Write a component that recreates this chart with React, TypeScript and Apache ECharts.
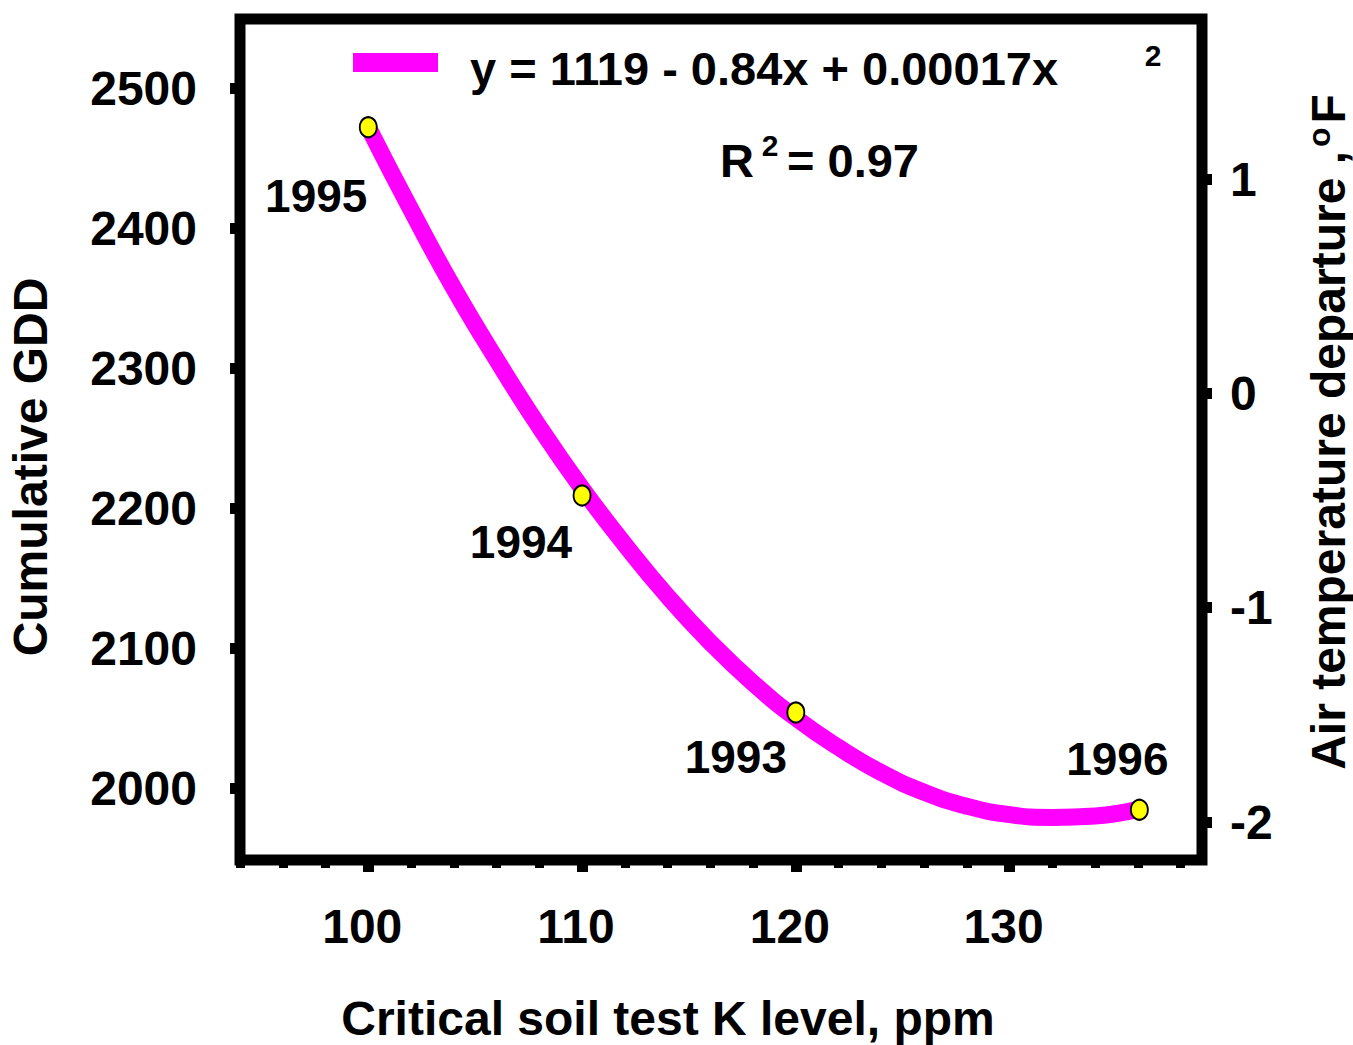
import React, { useEffect, useRef } from "react";
import * as echarts from "echarts";

// ---- data ----
const years = ["1995", "1994", "1993", "1996"];
const soilK = [100.0, 110.0, 120.0, 136.07];
const gdd = [2472, 2209, 2054, 1984.5];

const fitX = [100, 102, 104, 106, 108, 110, 112, 114, 116, 118, 120, 122, 124, 126, 128, 130, 132, 134, 136.07];
const fitY = [2472, 2413, 2357, 2306, 2258, 2214, 2174, 2137, 2104, 2075, 2050, 2029, 2011, 1997, 1987, 1981, 1979, 1980, 1985];

const xTicks = [100, 110, 120, 130];
const xMinorTicks = [94, 96, 98, 102, 104, 106, 108, 112, 114, 116, 118, 122, 124, 126, 128, 132, 134, 136, 138];
const gddTicks = [2000, 2100, 2200, 2300, 2400, 2500];
const tempTicks = [-2, -1, 0, 1];

const equationText = "y = 1119 - 0.84x + 0.00017x";
const rSquaredText = "= 0.97";

// label offsets relative to each point (style, not data)
const labelOffsets = [
  [-52, 69],
  [-61, 47],
  [-60, 45],
  [-22, -51],
];

const FONT = '"Liberation Sans", Arial, sans-serif';

export default function App() {
  const ref = useRef<HTMLDivElement>(null);

  useEffect(() => {
    if (!ref.current) return;
    const chart = echarts.init(ref.current, undefined, { renderer: "svg" });

    const axisLabelStyle = {
      fontFamily: FONT,
      fontWeight: "bold" as const,
      fontSize: 48,
      color: "#000",
    };
    const plain = (v: number) => String(v);

    const option = {
      animation: false,
      backgroundColor: "#fff",
      grid: {
        left: 240,
        width: 962,
        top: 19,
        height: 841,
        containLabel: false,
        outerBoundsMode: "none",
        show: true,
        borderColor: "#000",
        borderWidth: 11,
        backgroundColor: "transparent",
      },
      xAxis: [
        {
          type: "value",
          min: 94,
          max: 139,
          position: "bottom",
          axisLine: { show: false, onZero: false },
          splitLine: { show: false },
          axisTick: {
            show: true,
            customValues: xTicks,
            length: 12,
            lineStyle: { color: "#000", width: 11 },
          },
          axisLabel: {
            ...axisLabelStyle,
            customValues: xTicks,
            margin: 42,
            formatter: plain,
            padding: [0, 12, 0, 0],
          },
          name: "Critical soil test K level, ppm",
          nameLocation: "middle",
          nameGap: 138,
          nameTextStyle: { ...axisLabelStyle, lineHeight: 40, padding: [0, 106, 0, 0] },
        },
        {
          type: "value",
          min: 94,
          max: 139,
          position: "bottom",
          axisLine: { show: false, onZero: false },
          splitLine: { show: false },
          axisTick: {
            show: true,
            customValues: xMinorTicks,
            length: 8,
            lineStyle: { color: "#000", width: 9 },
          },
          axisLabel: { show: false },
        },
      ],
      yAxis: [
        {
          type: "value",
          min: 1948.6,
          max: 2549.3,
          position: "left",
          axisLine: { show: false, onZero: false },
          splitLine: { show: false },
          axisTick: {
            show: true,
            customValues: gddTicks,
            length: 10,
            lineStyle: { color: "#000", width: 11 },
          },
          axisLabel: {
            ...axisLabelStyle,
            customValues: gddTicks,
            margin: 43,
            formatter: plain,
            padding: [10, 0, 0, 0],
          },
        },
        {
          type: "value",
          min: -2.177,
          max: 1.747,
          position: "right",
          axisLine: { show: false, onZero: false },
          splitLine: { show: false },
          axisTick: {
            show: true,
            customValues: tempTicks,
            length: 10,
            lineStyle: { color: "#000", width: 11 },
          },
          axisLabel: {
            ...axisLabelStyle,
            customValues: tempTicks,
            margin: 28,
            formatter: plain,
            padding: [6, 0, 0, 0],
          },
        },
      ],
      series: [
        {
          type: "line",
          name: equationText,
          xAxisIndex: 0,
          yAxisIndex: 0,
          data: fitX.map((x, i) => [x, fitY[i]]),
          smooth: true,
          showSymbol: false,
          lineStyle: { color: "#FF00FF", width: 17, cap: "butt" },
          z: 2,
        },
        {
          type: "scatter",
          xAxisIndex: 0,
          yAxisIndex: 0,
          clip: false,
          symbol: "circle",
          symbolSize: [17, 20],
          itemStyle: { color: "#FFFF00", borderColor: "#000", borderWidth: 2, opacity: 1 },
          data: soilK.map((x, i) => ({
            value: [x, gdd[i]],
            label: {
              show: true,
              formatter: years[i],
              position: "inside",
              offset: labelOffsets[i],
              fontFamily: FONT,
              fontWeight: "bold",
              fontSize: 46,
              color: "#000",
              opacity: 1,
              textBorderWidth: 0,
            },
          })),
          z: 3,
        },
      ],
      graphic: [
        {
          type: "rect",
          shape: { x: 353, y: 53, width: 85, height: 19 },
          style: { fill: "#FF00FF" },
        },
        {
          type: "text",
          x: 470,
          y: 68,
          style: {
            text: equationText,
            font: `bold 47px ${FONT}`,
            fill: "#000",
            align: "left",
            verticalAlign: "middle",
          },
        },
        {
          type: "text",
          x: 1153,
          y: 55,
          style: {
            text: "2",
            font: `bold 30px ${FONT}`,
            fill: "#000",
            align: "center",
            verticalAlign: "middle",
          },
        },
        {
          type: "text",
          x: 720,
          y: 160,
          style: {
            text: "R",
            font: `bold 47px ${FONT}`,
            fill: "#000",
            align: "left",
            verticalAlign: "middle",
          },
        },
        {
          type: "text",
          x: 770,
          y: 145,
          style: {
            text: "2",
            font: `bold 30px ${FONT}`,
            fill: "#000",
            align: "center",
            verticalAlign: "middle",
          },
        },
        {
          type: "text",
          x: 787,
          y: 160,
          style: {
            text: rSquaredText,
            font: `bold 47px ${FONT}`,
            fill: "#000",
            align: "left",
            verticalAlign: "middle",
          },
        },
        {
          type: "text",
          x: 30,
          y: 467,
          rotation: Math.PI / 2,
          style: {
            text: "Cumulative GDD",
            font: `bold 48px ${FONT}`,
            fill: "#000",
            align: "center",
            verticalAlign: "middle",
          },
        },
        {
          type: "text",
          x: 1328,
          y: 432,
          rotation: Math.PI / 2,
          style: {
            text: "Air temperature departure ,{sup|o}F",
            font: `bold 48px ${FONT}`,
            fill: "#000",
            align: "center",
            verticalAlign: "middle",
            rich: {
              sup: {
                fontFamily: FONT,
                fontWeight: "bold",
                fontSize: 32,
                verticalAlign: "top",
                padding: [0, 4, 18, 4],
                fill: "#000",
              },
            },
          },
        },
      ],
    };

    chart.setOption(option as any);
    return () => chart.dispose();
  }, []);

  return (
    <div
      ref={ref}
      style={{ position: "absolute", left: 0, top: 0, width: 1353, height: 1045, background: "#fff" }}
    />
  );
}
